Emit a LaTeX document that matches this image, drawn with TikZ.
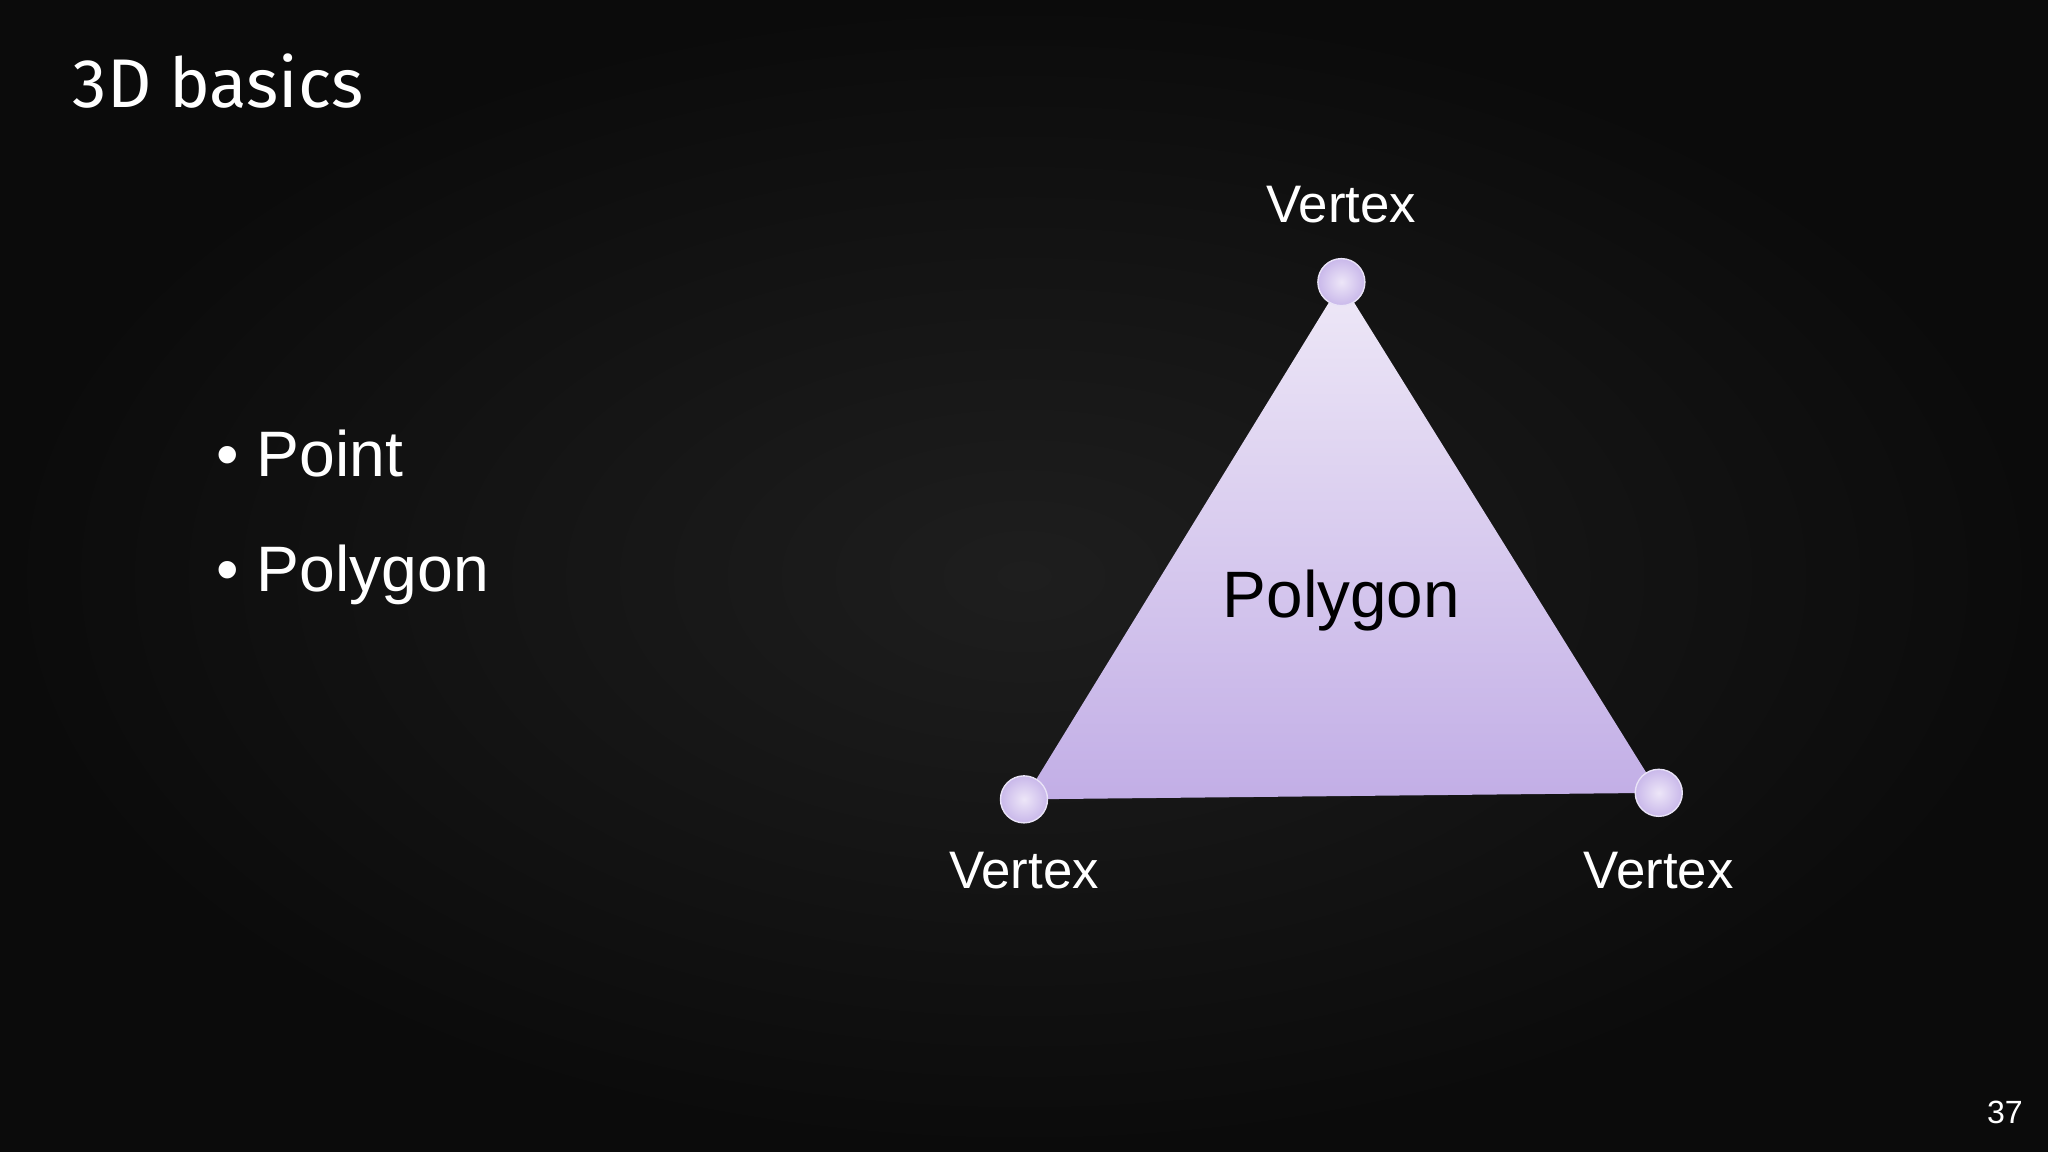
\documentclass[tikz,border=0pt]{standalone}
\usepackage{fontspec}
\setmainfont{Liberation Sans}
\newfontfamily\titlefont{Fira Sans}
\usetikzlibrary{shadings}
\definecolor{bgdark}{HTML}{0B0B0B}
\definecolor{bgmid}{HTML}{1E1E1E}
\definecolor{triTop}{HTML}{EEE8F7}
\definecolor{triBot}{HTML}{C2AEE6}
\definecolor{vin}{HTML}{EDE6F8}
\definecolor{vout}{HTML}{C9B8EA}
\tikzset{
  vtx/.style={circle,minimum size=3.6mm,inner sep=0pt,draw=white!60!vout,line width=0.3pt,inner color=vin,outer color=vout},
  lbl/.style={text=white,font=\fontsize{11.5pt}{14pt}\selectfont,inner sep=0pt},
  bul/.style={text=white,font=\fontsize{14pt}{16pt}\selectfont,inner sep=0pt,anchor=base west}
}
\begin{document}
\begin{tikzpicture}[x=0.1mm,y=-0.1mm]
\useasboundingbox (0,0) rectangle (1568,882);
\fill[bgdark] (0,0) rectangle (1568,882);
\shade[inner color=bgmid,outer color=bgdark] (0,0) rectangle (1568,882);
\node[text=white,font=\titlefont\fontsize{15pt}{18pt}\selectfont,inner sep=0pt,anchor=base west] (title) at (55,82) {3D basics};
\node[bul] (b1) at (165,365) {• Point};
\node[bul] (b2) at (165,453) {• Polygon};
\coordinate (A) at (1027,216);
\coordinate (B) at (784,612);
\coordinate (C) at (1270,607);
\shade[top color=triTop,bottom color=triBot] (A) -- (C) -- (B) -- cycle;
\node[vtx] (va) at (A) {};
\node[vtx] (vb) at (B) {};
\node[vtx] (vc) at (C) {};
\node[text=black,font=\fontsize{14.3pt}{18pt}\selectfont,inner sep=0pt] (poly) at (1027,460) {Polygon};
\node[lbl,anchor=base] (la) at (1027,170) {Vertex};
\node[lbl,anchor=base] (lb) at (784,680) {Vertex};
\node[lbl,anchor=base] (lc) at (1270,680) {Vertex};
\node[text=white,font=\fontsize{7pt}{8pt}\selectfont,inner sep=0pt,anchor=base] (pg) at (1535,860) {37};
\end{tikzpicture}
\end{document}
